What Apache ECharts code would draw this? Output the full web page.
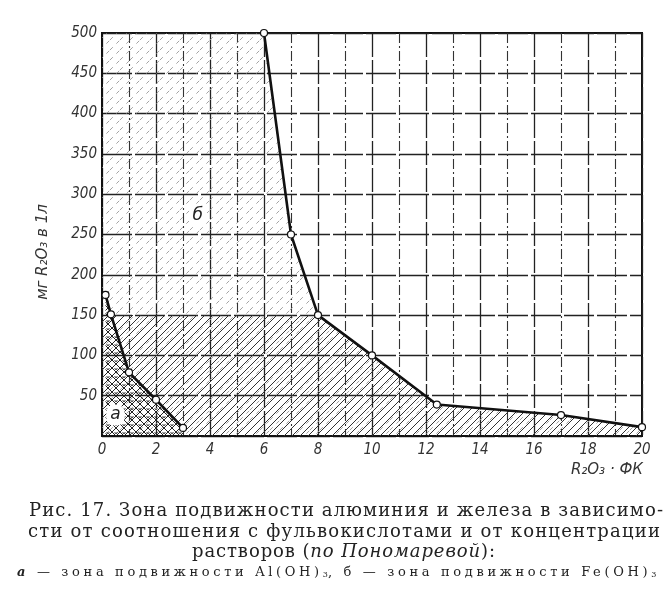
<!DOCTYPE html>
<html>
<head>
<meta charset="utf-8">
<script src="https://cdn.jsdelivr.net/npm/echarts@6/dist/echarts.min.js"></script>
<style>
  html, body { margin: 0; padding: 0; background: #fff; }
  #chart { position: absolute; left: 0; top: 0; width: 670px; height: 598px; }
  .ln { position: absolute; white-space: nowrap; color: #222; line-height: 20px;
        font-family: 'DejaVu Serif', 'Liberation Serif', serif; font-size: 18px; }
  .ln.s { font-size: 13px; }
  .ln sub { font-size: 8px; vertical-align: -1px; letter-spacing: 0; }
</style>
</head>
<body>
<div id="chart"></div>
<span class="ln" data-x="29" data-y="510" data-w="634">Рис. 17. Зона подвижности алюминия и железа в зависимо-</span>
<span class="ln" data-x="28" data-y="531" data-w="632">сти от соотношения с фульвокислотами и от концентрации</span>
<span class="ln" data-x="192" data-y="551" data-w="303">растворов (<i>по Пономаревой</i>):</span>
<span class="ln s" data-x="17" data-y="572" data-w="643"><b><i>а</i></b> — зона подвижности Al(OH)<sub>3</sub>, б — зона подвижности Fe(OH)<sub>3</sub></span>
<script>
// зона б: Fe(OH)3
const feX = [6, 7, 8, 10, 12.4, 17, 20];
const feY = [500, 250, 150, 100, 39, 26, 11];
// зона а: Al(OH)3
const alX = [0.13, 0.33, 1, 2, 3];
const alY = [175, 151, 79, 45, 10];

const xTicks = [0, 2, 4, 6, 8, 10, 12, 14, 16, 18, 20];
const yTicks = [50, 100, 150, 200, 250, 300, 350, 400, 450, 500];

const zoneLabels = [
  { name: 'б', coord: [3.55, 273] },
  { name: 'а', coord: [0.5, 26] }
];

const pair = (xs, ys) => xs.map((x, i) => [x, ys[i]]);

// caption lines: stretch letter spacing to the printed width
document.querySelectorAll('.ln').forEach(el => {
  const w = el.getBoundingClientRect().width;
  const n = el.textContent.length;
  el.style.letterSpacing = ((+el.dataset.w - w) / (n - 1)) + 'px';
  el.style.left = el.dataset.x + 'px';
  el.style.top = (+el.dataset.y - 10) + 'px';
});

function hatch(size, stroke, width, dash, cross, dots) {
  const s = size;
  const c = document.createElement('canvas');
  c.width = s; c.height = s;
  const g = c.getContext('2d');
  g.strokeStyle = stroke;
  g.lineWidth = width;
  if (dash) g.setLineDash(dash);
  g.beginPath();
  g.moveTo(-1, 1); g.lineTo(1, -1);
  g.moveTo(0, s); g.lineTo(s, 0);
  g.moveTo(s - 1, s + 1); g.lineTo(s + 1, s - 1);
  if (cross) {
    g.moveTo(-1, s - 1); g.lineTo(1, s + 1);
    g.moveTo(0, 0); g.lineTo(s, s);
    g.moveTo(s - 1, -1); g.lineTo(s + 1, 1);
  }
  g.stroke();
  if (dots) {
    g.setLineDash([]);
    g.lineWidth = 0.9;
    g.beginPath();
    g.arc(s / 2, 0.5, 1.1, 0, Math.PI * 2);
    g.stroke();
  }
  return { image: c, repeat: 'repeat' };
}

const chart = echarts.init(document.getElementById('chart'));

const fePts = pair(feX, feY);
const feArea = [[0, 500]].concat(fePts);
const feDense = [[0, 150]].concat(fePts.filter(p => p[1] <= 150));

const labelFont = {
  fontFamily: 'DejaVu Sans Condensed, DejaVu Sans',
  fontStyle: 'italic',
  fontSize: 15,
  color: '#333'
};

chart.setOption({
  animation: false,
  backgroundColor: 'transparent',
  grid: { left: 102, right: 28, top: 33, bottom: 162, show: true, borderColor: '#111', borderWidth: 2 },
  xAxis: {
    type: 'value', min: 0, max: 20, interval: 2,
    axisLine: { show: true, lineStyle: { color: '#111', width: 2 } },
    axisTick: { show: false },
    minorTick: { show: false, splitNumber: 2 },
    axisLabel: Object.assign({ margin: 7, formatter: v => xTicks.includes(v) ? String(v) : '' }, labelFont),
    splitLine: { lineStyle: { color: '#222', width: 1.3, type: [24, 3] } },
    minorSplitLine: { show: true, lineStyle: { color: '#333', width: 1.1, type: [10, 3, 2, 3] } }
  },
  yAxis: {
    type: 'value', min: 0, max: 500, interval: 50,
    axisLine: { show: true, lineStyle: { color: '#111', width: 2 } },
    axisTick: { show: false },
    axisLabel: Object.assign({ margin: 5, formatter: v => yTicks.includes(v) ? String(v) : '' }, labelFont),
    splitLine: { lineStyle: { color: '#222', width: 1.3, type: [30, 3] } }
  },
  graphic: [
    {
      type: 'text', x: 43, y: 252, rotation: Math.PI / 2,
      style: { text: 'мг R₂O₃ в 1л', fontFamily: 'DejaVu Sans', fontStyle: 'italic', fontSize: 15,
               fill: '#333', align: 'center', verticalAlign: 'middle' }
    },
    {
      type: 'text', x: 643, y: 470,
      style: { text: 'R₂O₃ · ФК', fontFamily: 'DejaVu Sans', fontStyle: 'italic', fontSize: 15,
               fill: '#333', align: 'right', verticalAlign: 'middle' }
    }
  ],
  series: [
    {
      name: 'б-light', type: 'line', data: feArea, symbol: 'none', silent: true,
      lineStyle: { width: 0 },
      areaStyle: { color: hatch(10, '#999', 0.9, [4, 5], false, false), opacity: 1 }
    },
    {
      name: 'б-dense', type: 'line', data: feDense, symbol: 'none', silent: true,
      lineStyle: { width: 0 },
      areaStyle: { color: hatch(8, '#333', 1, null, false, false), opacity: 1 }
    },
    {
      name: 'а-area', type: 'line', data: pair(alX, alY), symbol: 'none', silent: true,
      lineStyle: { width: 0 },
      areaStyle: { color: hatch(8, '#222', 1, null, true, true), opacity: 1 }
    },
    {
      name: 'Fe(OH)3', type: 'line', data: fePts,
      symbol: 'circle', symbolSize: 7,
      lineStyle: { color: '#111', width: 2.6 },
      itemStyle: { color: '#fff', borderColor: '#111', borderWidth: 1.2 },
      z: 5
    },
    {
      name: 'Al(OH)3', type: 'line', data: pair(alX, alY),
      symbol: 'circle', symbolSize: 7,
      lineStyle: { color: '#111', width: 2.6 },
      itemStyle: { color: '#fff', borderColor: '#111', borderWidth: 1.2 },
      z: 5,
      markPoint: {
        symbol: 'circle', symbolSize: 0,
        data: zoneLabels.map(l => ({
          name: l.name, coord: l.coord,
          label: {
            show: true, formatter: l.name, fontFamily: 'DejaVu Sans', fontStyle: 'italic',
            fontSize: 17, color: '#222', backgroundColor: '#fff', padding: [2, 4], borderRadius: 8
          }
        }))
      }
    }
  ]
});
</script>
</body>
</html>
